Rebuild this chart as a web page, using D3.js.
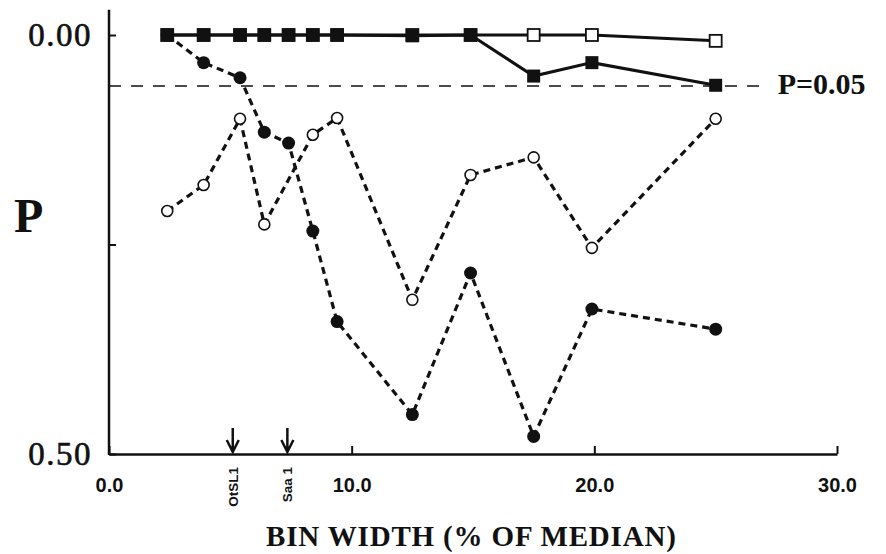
<!DOCTYPE html>
<html>
<head>
<meta charset="utf-8">
<script src="https://cdn.jsdelivr.net/npm/d3@7"></script>
<style>
  body { margin: 0; background: #fff; }
  svg { display: block; }
</style>
</head>
<body>
<script>

// bin widths (% of median) for the 12 runs
var binWidth = [2.4, 3.9, 5.4, 6.4, 7.4, 8.4, 9.4, 12.5, 14.9, 17.5, 19.9, 25.0];

// P values per series
var filledSquares = [0, 0, 0, 0, 0, 0, 0, 0.001, 0, 0.049, 0.033, 0.060];
var openSquares   = [0, 0, 0, 0, 0, 0, 0, 0, 0, 0, 0, 0.007];
var filledCircles = [0, 0.033, 0.051, 0.116, 0.129, 0.234, 0.342, 0.453, 0.284, 0.479, 0.327, 0.351];

// the open circle series has no point at 7.4
var openCircleX = [2.4, 3.9, 5.4, 6.4, 8.4, 9.4, 12.5, 14.9, 17.5, 19.9, 25.0];
var openCircles = [0.210, 0.179, 0.100, 0.226, 0.119, 0.099, 0.316, 0.167, 0.146, 0.254, 0.100];

var xTicks = [0, 10, 20, 30];
var yTicks = [0, 0.25, 0.5];

var cutoff = 0.061;          // where the P=0.05 line sits on the axis
var cutoffEnd = 27.1;
var markerLoci = ["OtSL1", "Saa 1"];
var markerLociX = [5.1, 7.35];

var svg = d3.select("body")
    .append("svg")
    .attr("width", 886).attr("height", 554);

var x = d3.scaleLinear().domain([0, 30]).range([109, 837]);
var y = d3.scaleLinear().domain([0, 0.5]).range([35, 454]);

var ink = "#111";

// x axis
var xAxis = svg.append("g")
    .attr("transform", "translate(0," + y(0.5) + ")")
    .call(d3.axisBottom(x).tickValues(xTicks)
        .tickSizeInner(-8).tickSizeOuter(0).tickPadding(24)
        .tickFormat(d3.format(".1f")));
xAxis.select(".domain").attr("stroke", ink).attr("stroke-width", 2.5);
xAxis.selectAll(".tick line").attr("stroke", ink).attr("stroke-width", 2);
xAxis.selectAll(".tick text")
    .attr("fill", ink)
    .attr("font-family", "Liberation Sans, Arial, sans-serif")
    .attr("font-weight", "bold")
    .attr("font-size", "20px");

// y axis
var yAxis = svg.append("g")
    .attr("transform", "translate(" + x(0) + ",0)")
    .call(d3.axisLeft(y).tickValues(yTicks)
        .tickSizeInner(-7).tickSizeOuter(0).tickPadding(17)
        .tickFormat(function (d) { return d == 0.25 ? "" : d3.format(".2f")(d); }));
yAxis.select(".domain").remove();
yAxis.selectAll(".tick line").attr("stroke", ink).attr("stroke-width", 2);
yAxis.selectAll(".tick text")
    .attr("fill", ink)
    .attr("font-family", "Liberation Serif, Times New Roman, serif")
    .attr("font-size", "33px")
    .attr("letter-spacing", "1.5px")
    .attr("stroke", ink).attr("stroke-width", 0.6)
    .attr("dy", "0.33em");

svg.append("line")
    .attr("x1", x(0)).attr("x2", x(0))
    .attr("y1", y(-0.03)).attr("y2", y(0.5) + 1)
    .attr("stroke", ink).attr("stroke-width", 2.5);

// P = 0.05 reference line
svg.append("line")
    .attr("x1", x(0)).attr("x2", x(cutoffEnd))
    .attr("y1", y(cutoff)).attr("y2", y(cutoff))
    .attr("stroke", ink).attr("stroke-width", 1.5)
    .attr("stroke-dasharray", "12,10");

svg.append("text")
    .attr("x", x(cutoffEnd) + 11).attr("y", y(cutoff) + 8)
    .attr("font-family", "Liberation Serif, Times New Roman, serif")
    .attr("font-weight", "bold")
    .attr("font-size", "30px")
    .attr("fill", ink)
    .text("P=0.05");

var line = d3.line()
    .x(function (d) { return x(d[0]); })
    .y(function (d) { return y(d[1]); });

function pairs(xs, ys) { return xs.map(function (v, i) { return [v, ys[i]]; }); }

var fc = pairs(binWidth, filledCircles);
var oc = pairs(openCircleX, openCircles);
var fs = pairs(binWidth, filledSquares);
var os = pairs(binWidth, openSquares);

// dotted series
[oc, fc].forEach(function (data) {
    svg.append("path")
        .datum(data)
        .attr("d", line)
        .attr("fill", "none")
        .attr("stroke", ink)
        .attr("stroke-width", 3.2)
        .attr("stroke-dasharray", "7,5");
});

// solid series
[os, fs].forEach(function (data) {
    svg.append("path")
        .datum(data)
        .attr("d", line)
        .attr("fill", "none")
        .attr("stroke", ink)
        .attr("stroke-width", 3);
});

svg.selectAll("circle.open")
    .data(oc)
    .enter()
    .append("circle")
    .attr("class", "open")
    .attr("cx", function (d) { return x(d[0]); })
    .attr("cy", function (d) { return y(d[1]); })
    .attr("r", 5.5)
    .attr("fill", "#fff")
    .attr("stroke", ink)
    .attr("stroke-width", 1.6);

svg.selectAll("circle.filled")
    .data(fc)
    .enter()
    .append("circle")
    .attr("class", "filled")
    .attr("cx", function (d) { return x(d[0]); })
    .attr("cy", function (d) { return y(d[1]); })
    .attr("r", 6.5)
    .attr("fill", ink);

svg.selectAll("rect.open")
    .data(os)
    .enter()
    .append("rect")
    .attr("class", "open")
    .attr("x", function (d) { return x(d[0]) - 6; })
    .attr("y", function (d) { return y(d[1]) - 6; })
    .attr("width", 12).attr("height", 12)
    .attr("fill", "#fff")
    .attr("stroke", ink)
    .attr("stroke-width", 1.8);

svg.selectAll("rect.filled")
    .data(fs)
    .enter()
    .append("rect")
    .attr("class", "filled")
    .attr("x", function (d) { return x(d[0]) - 6.5; })
    .attr("y", function (d) { return y(d[1]) - 6.5; })
    .attr("width", 13).attr("height", 13)
    .attr("fill", ink);

// locus arrows under the plot
var loci = svg.selectAll("g.locus")
    .data(markerLoci)
    .enter()
    .append("g")
    .attr("class", "locus")
    .attr("transform", function (d, i) { return "translate(" + x(markerLociX[i]) + "," + y(0.5) + ")"; });

loci.append("path")
    .attr("d", "M0,-26V-2M-6,-14L0,-2L6,-14")
    .attr("fill", "none")
    .attr("stroke", ink)
    .attr("stroke-width", 2.5);

loci.append("text")
    .attr("transform", "translate(5,13) rotate(-90)")
    .attr("text-anchor", "end")
    .attr("font-family", "Liberation Sans, Arial, sans-serif")
    .attr("font-weight", "bold")
    .attr("font-size", "13.5px")
    .attr("fill", ink)
    .text(function (d) { return d; });

// axis titles
svg.append("text")
    .attr("x", 471).attr("y", 546)
    .attr("text-anchor", "middle")
    .attr("font-family", "Liberation Serif, Times New Roman, serif")
    .attr("font-weight", "bold")
    .attr("font-size", "29px")
    .attr("textLength", 410)
    .attr("lengthAdjust", "spacing")
    .attr("fill", ink)
    .text("BIN WIDTH (% OF MEDIAN)");

svg.append("text")
    .attr("x", 14).attr("y", 232)
    .attr("font-family", "Liberation Serif, Times New Roman, serif")
    .attr("font-weight", "bold")
    .attr("font-size", "48px")
    .attr("fill", ink)
    .text("P");

</script>
</body>
</html>
